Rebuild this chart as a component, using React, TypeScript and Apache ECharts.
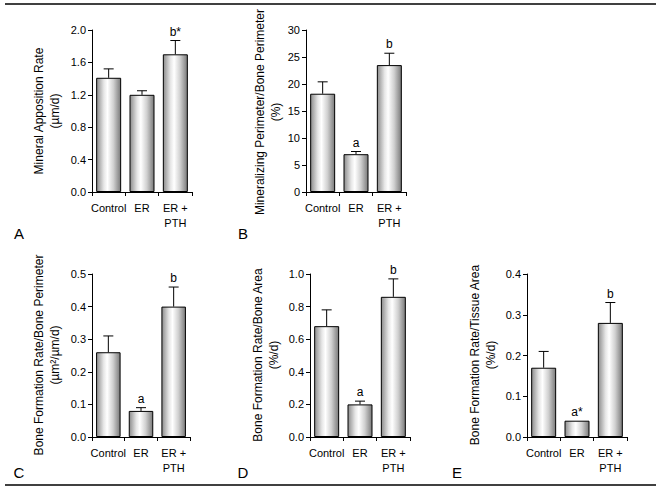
import React, { useEffect, useRef } from "react";
import * as echarts from "echarts";

const categories = ["Control", "ER", "ER +\nPTH"];

const marValues = [1.41, 1.2, 1.7];
const marErrors = [0.11, 0.05, 0.17];
const marSig = ["", "", "b*"];

const mprValues = [18.2, 7.0, 23.5];
const mprErrors = [2.2, 0.5, 2.2];
const mprSig = ["", "a", "b"];

const bfrBpValues = [0.26, 0.08, 0.4];
const bfrBpErrors = [0.05, 0.01, 0.06];
const bfrBpSig = ["", "a", "b"];

const bfrBaValues = [0.68, 0.2, 0.86];
const bfrBaErrors = [0.1, 0.02, 0.11];
const bfrBaSig = ["", "a", "b"];

const bfrTaValues = [0.17, 0.04, 0.28];
const bfrTaErrors = [0.04, 0, 0.05];
const bfrTaSig = ["", "a*", "b"];

const FONT = "Arial, 'Liberation Sans', Helvetica, sans-serif";

type Panel = {
  values: number[];
  errors: number[];
  sig: string[];
  max: number;
  interval: number;
  decimals: number;
  title: string;
  letter: string;
  grid: { left: number; top: number; width: number; height: number };
  titlePos: [number, number];
  letterPos: [number, number];
};

const panels: Panel[] = [
  {
    values: marValues, errors: marErrors, sig: marSig, max: 2.0, interval: 0.4, decimals: 1,
    title: "Mineral Apposition Rate\n(\u00b5m/d)", letter: "A",
    grid: { left: 92, top: 30, width: 100, height: 162 },
    titlePos: [47, 111], letterPos: [19, 233],
  },
  {
    values: mprValues, errors: mprErrors, sig: mprSig, max: 30, interval: 5, decimals: 0,
    title: "Mineralizing Perimeter/Bone Perimeter\n(%)", letter: "B",
    grid: { left: 306, top: 30, width: 100, height: 162 },
    titlePos: [268, 112], letterPos: [243, 233],
  },
  {
    values: bfrBpValues, errors: bfrBpErrors, sig: bfrBpSig, max: 0.5, interval: 0.1, decimals: 1,
    title: "Bone Formation Rate/Bone Perimeter\n(\u00b5m\u00b2/\u00b5m/d)", letter: "C",
    grid: { left: 92, top: 274, width: 98, height: 163 },
    titlePos: [47, 355], letterPos: [19, 472],
  },
  {
    values: bfrBaValues, errors: bfrBaErrors, sig: bfrBaSig, max: 1.0, interval: 0.2, decimals: 1,
    title: "Bone Formation Rate/Bone Area\n(%/d)", letter: "D",
    grid: { left: 310, top: 274, width: 100, height: 163 },
    titlePos: [266, 355], letterPos: [243, 472],
  },
  {
    values: bfrTaValues, errors: bfrTaErrors, sig: bfrTaSig, max: 0.4, interval: 0.1, decimals: 1,
    title: "Bone Formation Rate/Tissue Area\n(%/d)", letter: "E",
    grid: { left: 527, top: 274, width: 100, height: 163 },
    titlePos: [483, 355], letterPos: [457, 472],
  },
];

export default function App() {
  const ref = useRef<HTMLDivElement>(null);

  useEffect(() => {
    document.body.style.margin = "0";
    if (!ref.current) return;
    const chart = echarts.init(ref.current, null, { renderer: "svg" });

    const barFill = new echarts.graphic.LinearGradient(0, 0, 1, 0, [
      { offset: 0, color: "#8c8c8c" },
      { offset: 0.3, color: "#e6e6e6" },
      { offset: 0.45, color: "#ffffff" },
      { offset: 0.7, color: "#d0d0d0" },
      { offset: 1, color: "#7a7a7a" },
    ]);

    const grids: any[] = [];
    const xAxes: any[] = [];
    const yAxes: any[] = [];
    const series: any[] = [];
    const graphics: any[] = [];

    panels.forEach((p, i) => {
      grids.push({ ...p.grid, containLabel: false });
      xAxes.push({
        type: "category",
        gridIndex: i,
        data: categories,
        axisLine: { lineStyle: { color: "#000", width: 1 } },
        axisTick: { show: true, length: 4, alignWithLabel: false, lineStyle: { color: "#000" } },
        axisLabel: { color: "#000", fontSize: 11, fontFamily: FONT, margin: 8, lineHeight: 15, interval: 0 },
        splitLine: { show: false },
      });
      yAxes.push({
        type: "value",
        gridIndex: i,
        min: 0,
        max: p.max,
        interval: p.interval,
        axisLine: { show: true, lineStyle: { color: "#000", width: 1 } },
        axisTick: { show: true, length: 4, lineStyle: { color: "#000" } },
        axisLabel: {
          color: "#000", fontSize: 11, fontFamily: FONT, margin: 6,
          formatter: (v: number) => v.toFixed(p.decimals),
        },
        splitLine: { show: false },
      });
      series.push({
        type: "bar",
        xAxisIndex: i,
        yAxisIndex: i,
        data: p.values,
        barCategoryGap: "25%",
        itemStyle: { color: barFill, borderColor: "#000", borderWidth: 1 },
        silent: true,
      });
      series.push({
        type: "custom",
        xAxisIndex: i,
        yAxisIndex: i,
        data: p.values.map((v, k) => [k, v, v + p.errors[k]]),
        z: 5,
        silent: true,
        renderItem: (params: any, api: any) => {
          const k = api.value(0);
          const base = api.coord([k, api.value(1)]);
          const top = api.coord([k, api.value(2)]);
          const children: any[] = [];
          if (top[1] < base[1] - 0.5) {
            children.push({
              type: "line",
              shape: { x1: base[0], y1: base[1], x2: top[0], y2: top[1] },
              style: { stroke: "#000", lineWidth: 1 },
            });
            children.push({
              type: "line",
              shape: { x1: top[0] - 5, y1: top[1], x2: top[0] + 5, y2: top[1] },
              style: { stroke: "#000", lineWidth: 1 },
            });
          }
          const s = p.sig[params.dataIndex];
          if (s) {
            children.push({
              type: "text",
              x: top[0],
              y: top[1] - 3,
              style: {
                text: s, fill: "#000", fontSize: 12, fontFamily: FONT,
                align: "center", verticalAlign: "bottom",
              },
            });
          }
          return { type: "group", children };
        },
      });
      graphics.push({
        type: "text",
        x: p.titlePos[0],
        y: p.titlePos[1],
        rotation: Math.PI / 2,
        style: {
          text: p.title, fill: "#000", fontSize: 12, fontFamily: FONT,
          align: "center", verticalAlign: "middle", lineHeight: 16,
        },
      });
      graphics.push({
        type: "text",
        x: p.letterPos[0],
        y: p.letterPos[1],
        style: {
          text: p.letter, fill: "#000", fontSize: 15, fontFamily: FONT,
          align: "center", verticalAlign: "middle",
        },
      });
    });

    graphics.push({
      type: "line",
      shape: { x1: 5, y1: 4, x2: 656, y2: 4 },
      style: { stroke: "#000", lineWidth: 1.5 },
    });
    graphics.push({
      type: "line",
      shape: { x1: 5, y1: 485, x2: 656, y2: 485 },
      style: { stroke: "#000", lineWidth: 1.5 },
    });

    chart.setOption({
      animation: false,
      backgroundColor: "#fff",
      grid: grids,
      xAxis: xAxes,
      yAxis: yAxes,
      series,
      graphic: graphics,
    });

    return () => chart.dispose();
  }, []);

  return <div ref={ref} style={{ width: 661, height: 492 }} />;
}
